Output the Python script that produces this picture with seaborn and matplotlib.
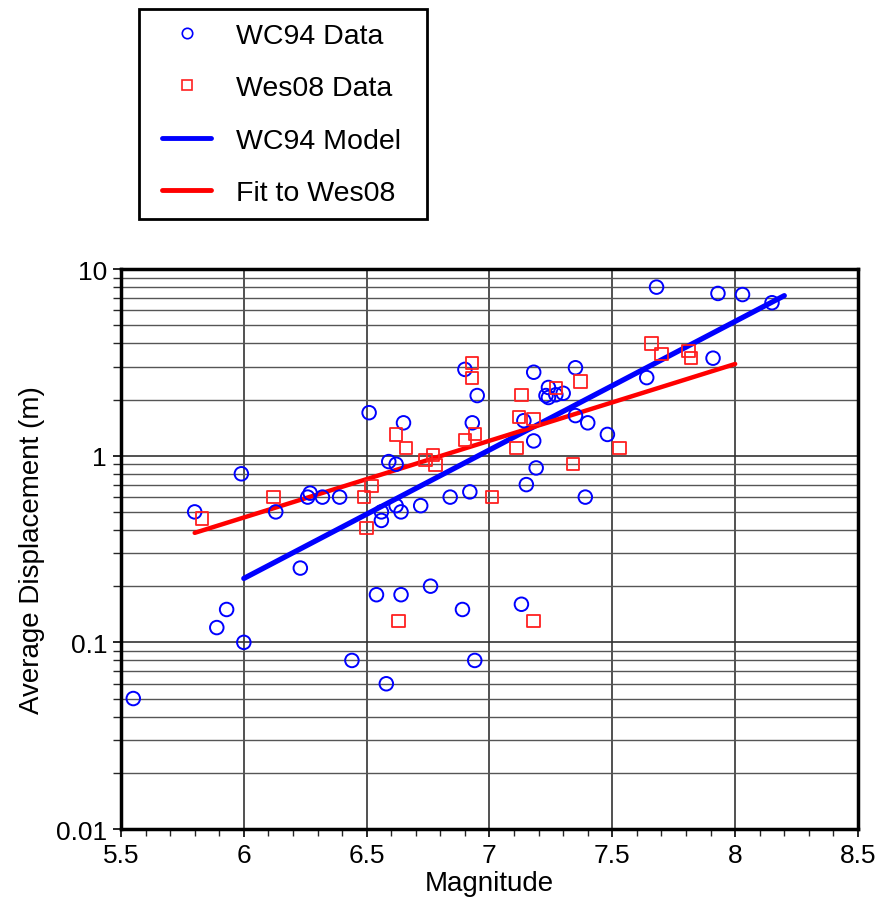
"""
Average displacement against magnitude: WC94 and Wes08 data with the
WC94 model and a fit to the Wes08 points. Saves out.png.
"""

import matplotlib

matplotlib.use('Agg')
import matplotlib.pyplot as plt
from matplotlib.legend_handler import HandlerLine2D
from matplotlib.lines import Line2D
from matplotlib.patches import Rectangle
from matplotlib.ticker import FixedLocator, LogLocator, NullFormatter
import pandas as pd
import seaborn as sns

# %% Data

wc94_mag = [5.55, 5.80, 5.89, 5.93, 5.99, 6.00, 6.13, 6.23, 6.26, 6.27,
            6.32, 6.39, 6.44, 6.51, 6.54, 6.56, 6.56, 6.58, 6.59, 6.62,
            6.62, 6.64, 6.64, 6.65, 6.72, 6.76, 6.84, 6.89, 6.90, 6.92,
            6.93, 6.94, 6.95, 7.13, 7.14, 7.15, 7.18, 7.18, 7.19, 7.23,
            7.24, 7.24, 7.27, 7.30, 7.35, 7.35, 7.39, 7.40, 7.48, 7.64,
            7.68, 7.91, 7.93, 8.03, 8.15]
wc94_ad = [0.05, 0.50, 0.12, 0.15, 0.80, 0.10, 0.50, 0.25, 0.60, 0.63,
           0.60, 0.60, 0.08, 1.70, 0.18, 0.45, 0.50, 0.06, 0.93, 0.90,
           0.54, 0.50, 0.18, 1.50, 0.54, 0.20, 0.60, 0.15, 2.90, 0.64,
           1.50, 0.08, 2.10, 0.16, 1.54, 0.70, 2.80, 1.20, 0.86, 2.10,
           2.32, 2.05, 2.12, 2.16, 2.96, 1.64, 0.60, 1.50, 1.30, 2.62,
           8.0, 3.33, 7.4, 7.3, 6.6]

wes08_mag = [5.83, 6.12, 6.49, 6.50, 6.52, 6.62, 6.63, 6.66, 6.74, 6.77,
             6.78, 6.90, 6.93, 6.93, 6.94, 7.01, 7.11, 7.12, 7.13, 7.18,
             7.18, 7.27, 7.34, 7.37, 7.53, 7.66, 7.70, 7.81, 7.82]
wes08_ad = [0.46, 0.60, 0.60, 0.41, 0.69, 1.30, 0.13, 1.10, 0.95, 1.01,
            0.89, 1.21, 3.13, 2.61, 1.31, 0.60, 1.10, 1.61, 2.11, 1.57,
            0.13, 2.31, 0.90, 2.50, 1.10, 4.0, 3.5, 3.65, 3.33]

model_mag = [6.0, 8.2]
model_ad = [0.22, 7.2]

fit_mag = [5.8, 8.0]
fit_ad = [0.386, 3.1]

# %% Plot

sns.set_theme(style='ticks')
plt.rcParams['font.family'] = ['Liberation Sans', 'DejaVu Sans']
plt.rcParams['text.color'] = 'black'
plt.rcParams['axes.labelcolor'] = 'black'

fig = plt.figure(figsize=(8.78, 9.12), dpi=100)
ax = fig.add_axes([0.1378, 0.0899, 0.8394, 0.614])

data_wc = pd.DataFrame({'mag': wc94_mag, 'ad': wc94_ad})
data_wes = pd.DataFrame({'mag': wes08_mag, 'ad': wes08_ad})

sns.lineplot(x=model_mag, y=model_ad, color='#0000ff', lw=3.8, ax=ax,
             zorder=3)
sns.lineplot(x=fit_mag, y=fit_ad, color='#ff0000', lw=3.2, ax=ax,
             zorder=3)
sns.scatterplot(data=data_wc, x='mag', y='ad', marker='o', s=95,
                facecolors='none', edgecolors='#0000ff', linewidth=1.4,
                ax=ax, zorder=4)
sns.scatterplot(data=data_wes, x='mag', y='ad', marker='s', s=80,
                facecolors='none', edgecolors='#ff2020', linewidth=1.3,
                ax=ax, zorder=4)

ax.set_yscale('log')
ax.set_xlim(5.5, 8.5)
ax.set_ylim(0.01, 10)

ax.set_xticks([5.5, 6, 6.5, 7, 7.5, 8, 8.5])
ax.set_xticklabels(['5.5', '6', '6.5', '7', '7.5', '8', '8.5'])
ax.xaxis.set_minor_locator(FixedLocator([5.5 + 0.1 * i for i in range(31)]))
ax.set_yticks([0.01, 0.1, 1, 10])
ax.set_yticklabels(['0.01', '0.1', '1', '10'])
ax.yaxis.set_minor_locator(LogLocator(base=10, subs=range(2, 10)))
ax.yaxis.set_minor_formatter(NullFormatter())

ax.grid(True, which='major', axis='both', color='#333333', lw=1.2)
ax.grid(True, which='minor', axis='y', color='#555555', lw=1.0)
ax.set_axisbelow(True)

ax.tick_params(which='major', direction='out', length=6, width=1.2,
               labelsize=19, colors='black', pad=4)
ax.tick_params(which='minor', direction='out', length=6, width=1.0)
ax.tick_params(axis='x', which='minor', length=5)
for side in ax.spines.values():
    side.set_linewidth(2.5)
    side.set_color('black')

ax.set_xlabel('Magnitude', fontsize=20, labelpad=2)
ax.set_ylabel('Average Displacement (m)', fontsize=20, labelpad=8)

# legend: entries without a frame, then a plain box drawn around them
handles = [
    Line2D([], [], ls='none', marker='o', ms=7.5, mfc='none', mec='#0000ff',
           mew=1.2),
    Line2D([], [], ls='none', marker='s', ms=7.5, mfc='none', mec='#ff2020',
           mew=1.2),
    Line2D([], [], color='#0000ff', lw=3.5),
    Line2D([], [], color='#ff0000', lw=3.5),
]
labels = ['WC94 Data', 'Wes08 Data', 'WC94 Model', 'Fit to Wes08']
fig.legend(handles, labels, loc='upper left',
           bbox_to_anchor=(0.158, 0.989), fontsize=20.5,
           frameon=False, handlelength=2.05, handletextpad=0.88,
           labelspacing=0.93, borderpad=0.48, borderaxespad=0,
           handler_map={Line2D: HandlerLine2D(xpad=0.35)})
fig.patches.append(Rectangle((139 / 878, 1 - 220 / 912), 288 / 878,
                             210 / 912, transform=fig.transFigure,
                             fill=False, edgecolor='black', lw=2))

fig.savefig('out.png', dpi=100)
plt.close(fig)
print("Saved out.png")
